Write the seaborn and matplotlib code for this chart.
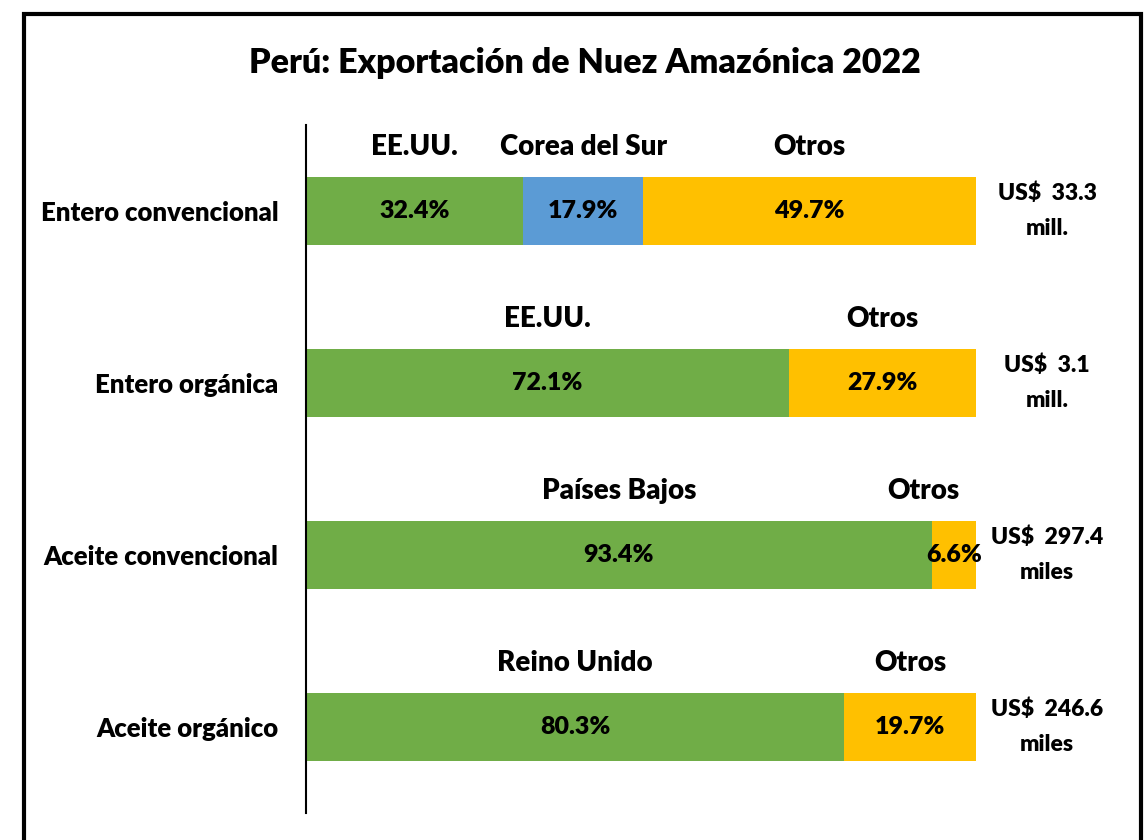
import matplotlib
import numpy as np
import pandas as pd
import matplotlib.pyplot as plt
import seaborn as sns
from matplotlib.patches import Rectangle

matplotlib.use("Agg")

# datos
categorias = ["Entero convencional", "Entero orgánica", "Aceite convencional", "Aceite orgánico"]
destino_principal = ["EE.UU.", "EE.UU.", "Países Bajos", "Reino Unido"]
pct_principal = [32.4, 72.1, 93.4, 80.3]
pct_corea = [17.9, 0.0, 0.0, 0.0]
pct_otros = [49.7, 27.9, 6.6, 19.7]
totales = ["US$  33.3\nmill.", "US$  3.1\nmill.", "US$  297.4\nmiles", "US$  246.6\nmiles"]

VERDE = "#70AD47"
AZUL = "#5B9BD5"
DORADO = "#FFC000"
PESO = "heavy"


def plot_nuez():
    sns.set_theme(style="white")
    plt.rcParams["font.family"] = ["Lato", "DejaVu Sans"]
    plt.rcParams["font.weight"] = PESO
    plt.rcParams["text.color"] = "black"
    plt.rcParams["ytick.color"] = "black"

    df = pd.DataFrame({
        "categoria": categorias,
        "principal": pct_principal,
        "corea": pct_corea,
        "otros": pct_otros,
    })
    df["acum1"] = df["principal"]
    df["acum2"] = df["principal"] + df["corea"]
    df["acum3"] = df["acum2"] + df["otros"]

    fig = plt.figure(figsize=(11.48, 8.4), dpi=100)
    ax = fig.add_axes([0.2666, 0.0321, 0.5836, 0.8191])

    # barras apiladas: se dibuja el acumulado de mayor a menor
    sns.barplot(data=df, y="categoria", x="acum3", color=DORADO, width=0.4,
                orient="h", ax=ax, saturation=1, linewidth=0)
    sns.barplot(data=df, y="categoria", x="acum2", color=AZUL, width=0.4,
                orient="h", ax=ax, saturation=1, linewidth=0)
    sns.barplot(data=df, y="categoria", x="acum1", color=VERDE, width=0.4,
                orient="h", ax=ax, saturation=1, linewidth=0)

    ax.set_xlim(0, 100)
    ax.set_xlabel("")
    ax.set_ylabel("")
    ax.set_xticks([])
    for lado in ["top", "right", "bottom"]:
        ax.spines[lado].set_visible(False)
    ax.spines["left"].set_color("black")
    ax.spines["left"].set_linewidth(1.5)
    ax.tick_params(axis="y", length=0, pad=20, labelsize=18.5, labelcolor="black")
    for t in ax.get_yticklabels():
        t.set_fontweight(PESO)

    for i, fila in df.iterrows():
        segmentos = [
            (0, fila["principal"], destino_principal[i]),
            (fila["acum1"], fila["corea"], "Corea del Sur"),
            (fila["acum2"], fila["otros"], "Otros"),
        ]
        for inicio, ancho, nombre in segmentos:
            if ancho <= 0:
                continue
            centro = inicio + ancho / 2
            ax.text(centro, i, f"{ancho:.1f}%", ha="center", va="center",
                    fontsize=18, fontweight=PESO, color="black")
            if ancho < 10:
                ax.text(97.5, i - 0.37, nombre, ha="right", va="center",
                        fontsize=20, fontweight=PESO)
            else:
                ax.text(centro, i - 0.37, nombre, ha="center", va="center",
                        fontsize=20, fontweight=PESO)
        ax.text(110.6, i, totales[i], ha="center", va="center", fontsize=16.5,
                fontweight=PESO, linespacing=1.8, clip_on=False)

    fig.text(0.5096, 0.925, "Perú: Exportación de Nuez Amazónica 2022",
             ha="center", va="center", fontsize=24.5, fontweight=PESO)

    marco = Rectangle((0.021, -0.05), 0.973, 1.033, transform=fig.transFigure,
                      fill=False, edgecolor="black", linewidth=3, clip_on=False)
    fig.patches.append(marco)

    fig.savefig("out.png", dpi=100)


if __name__ == "__main__":
    plot_nuez()
